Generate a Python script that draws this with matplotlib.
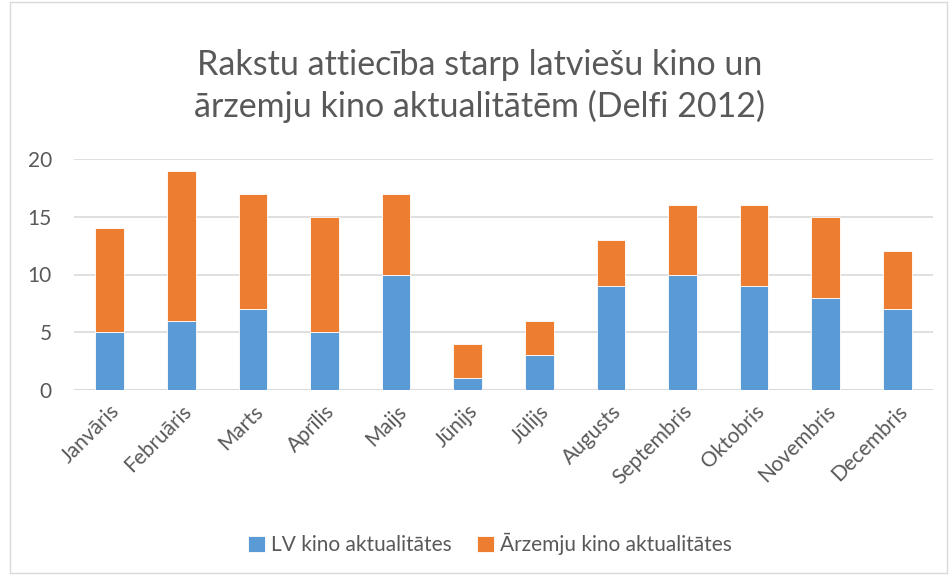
import matplotlib
matplotlib.use("Agg")
import matplotlib.pyplot as plt
from matplotlib.patches import Rectangle
import numpy as np

months = ["Janvāris", "Februāris", "Marts", "Aprīlis", "Maijs", "Jūnijs",
          "Jūlijs", "Augusts", "Septembris", "Oktobris", "Novembris", "Decembris"]
lv = [5, 6, 7, 5, 10, 1, 3, 9, 10, 9, 8, 7]
foreign = [9, 13, 10, 10, 7, 3, 3, 4, 6, 7, 7, 5]
series_names = ["LV kino aktualitātes", "Ārzemju kino aktualitātes"]
title = "Rakstu attiecība starp latviešu kino un\nārzemju kino aktualitātēm (Delfi 2012)"

plt.rcParams['font.family'] = ['Lato', 'DejaVu Sans']
txt = '#595959'

fig = plt.figure(figsize=(9.52, 5.75), dpi=100)
fig.patches.append(Rectangle((10/952, 2/575), 937/952, 571/575, transform=fig.transFigure,
                             fill=False, edgecolor='#d9d9d9', linewidth=1))
ax = fig.add_axes([74/952, 1-390/575, (933-74)/952, (390-159)/575])
x = np.arange(len(months))
b1 = ax.bar(x, lv, width=0.4, color='#5b9bd5', edgecolor='white', linewidth=0.6, zorder=3)
b2 = ax.bar(x, foreign, bottom=lv, width=0.4, color='#ed7d31', edgecolor='white', linewidth=0.6, zorder=3)
ax.set_xlim(-0.5, len(months)-0.5)
ax.set_ylim(0, 20)
ax.set_yticks([0, 5, 10, 15, 20])
ax.yaxis.grid(True, color='#d9d9d9', linewidth=1.2, zorder=0)
for s in ax.spines.values():
    s.set_visible(False)
ax.axhline(0, color='#d9d9d9', linewidth=1.2, zorder=1)
ax.tick_params(axis='both', length=0, colors=txt, labelsize=15)
ax.tick_params(axis='y', pad=16)
ax.set_xticks(x)
ax.set_xticklabels(months, rotation=45, ha='right', rotation_mode='anchor')
ax.tick_params(axis='x', pad=8)
fig.text(480/952, 1-86/575, title, ha='center', va='center', fontsize=24.5, color=txt, linespacing=1.35)
fig.legend([b1, b2], series_names, loc='center', bbox_to_anchor=(490/952, 1-544/575), ncol=2,
           frameon=False, fontsize=15, labelcolor=txt, handlelength=0.8, handleheight=0.8,
           handletextpad=0.3, columnspacing=1.2)
fig.savefig('out.png', dpi=100)
